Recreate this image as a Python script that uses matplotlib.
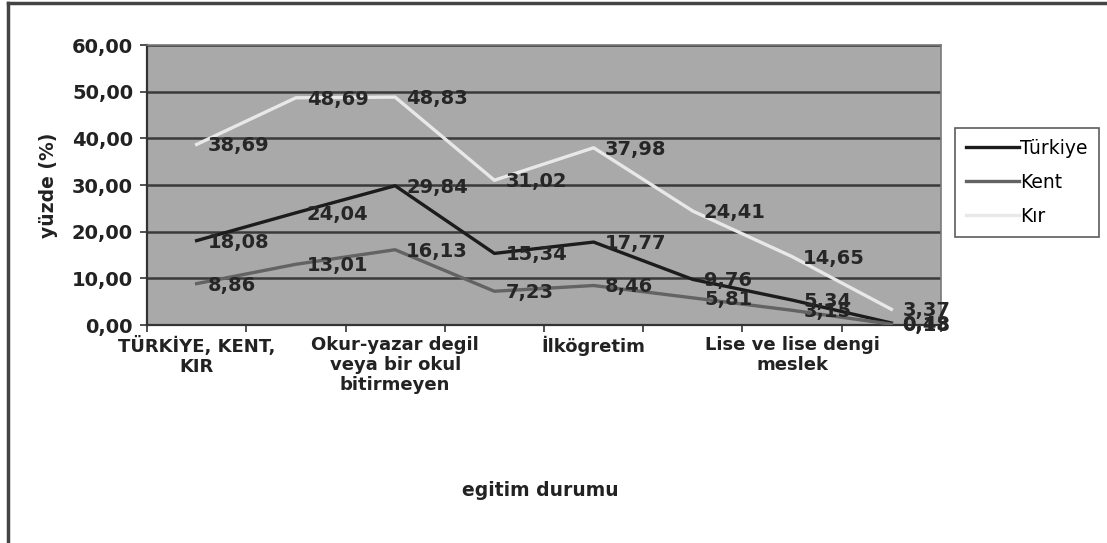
import matplotlib.pyplot as plt
import numpy as np

# egitim durumuna gore yuzdeler
kategoriler = ["TÜRKİYE, KENT,\nKIR", "", "Okur-yazar degil\nveya bir okul\nbitirmeyen", "",
               "İlkögretim", "", "Lise ve lise dengi\nmeslek", ""]
turkiye = [18.08, 24.04, 29.84, 15.34, 17.77, 9.76, 5.34, 0.43]
kent = [8.86, 13.01, 16.13, 7.23, 8.46, 5.81, 3.15, 0.18]
kir = [38.69, 48.69, 48.83, 31.02, 37.98, 24.41, 14.65, 3.37]
seriler = ["Türkiye", "Kent", "Kır"]
y_ticks = [0, 10, 20, 30, 40, 50, 60]

renkler = ["#1c1c1c", "#636363", "#e8e8e8"]

fig = plt.figure(figsize=(11.07, 5.43), dpi=100)
ax = fig.add_axes([147/1107, 1 - 325/543, (941-147)/1107, (325-45)/543])
ax.set_facecolor("#a9a9a9")

x = np.arange(len(kategoriler))
for vals, ad, renk in zip([turkiye, kent, kir], seriler, renkler):
    ax.plot(x, vals, color=renk, lw=2.4, label=ad, zorder=3)
    for xi, v in zip(x, vals):
        ax.annotate(f"{v:.2f}".replace(".", ","), (xi, v), xytext=(8, -1),
                    textcoords="offset points", ha="left", va="center",
                    fontsize=14, fontweight="bold", color="#262626", zorder=4,
                    annotation_clip=False)

ax.set_xlim(-0.5, len(kategoriler) - 0.5)
ax.set_ylim(0, 60)
ax.set_yticks(y_ticks)
ax.set_yticklabels([f"{t:.2f}".replace(".", ",") for t in y_ticks],
                   fontsize=14, fontweight="bold", color="#222222")
ax.yaxis.grid(True, color="#3a3a3a", lw=1.8, zorder=1)
ax.set_axisbelow(True)

# kategori cizgileri arasinda tik isaretleri
ax.set_xticks(np.arange(-0.5, len(kategoriler)), minor=False)
ax.set_xticklabels([])
ax.set_xticks(x, minor=True)
ax.set_xticklabels(kategoriler, minor=True, fontsize=13, fontweight="bold",
                   color="#222222", linespacing=1.15)
ax.tick_params(axis="x", which="minor", length=0, pad=8)
ax.tick_params(axis="x", which="major", length=5, width=1.2, color="#333333")
ax.tick_params(axis="y", length=5, width=1.2, color="#333333", pad=5)

for s in ["top", "right"]:
    ax.spines[s].set_color("#7a7a7a")
    ax.spines[s].set_linewidth(1.2)
for s in ["left", "bottom"]:
    ax.spines[s].set_color("#333333")
    ax.spines[s].set_linewidth(1.6)

ax.set_ylabel("yüzde (%)", fontsize=13.5, fontweight="bold", color="#222222", labelpad=10)
fig.text(540/1107, 1 - 490/543, "egitim durumu", ha="center", va="center",
         fontsize=13.5, fontweight="bold", color="#222222")

leg = fig.legend(loc="center", bbox_to_anchor=(952/1107, 1 - 243/543, 150/1107, 121/543),
                 fontsize=13.5, frameon=True, fancybox=False, edgecolor="#333333",
                 handlelength=2.8, handletextpad=0.1, labelspacing=0.8,
                 borderpad=0.6)
leg.get_frame().set_linewidth(1.2)

# grafik alaninin cercevesi
fig.add_artist(plt.Line2D([8/1107, 1], [1 - 3/543, 1 - 3/543], color="#444444", lw=2.5))
fig.add_artist(plt.Line2D([8/1107, 8/1107], [0, 1 - 3/543], color="#444444", lw=2.5))

fig.savefig("out.png", dpi=100)
